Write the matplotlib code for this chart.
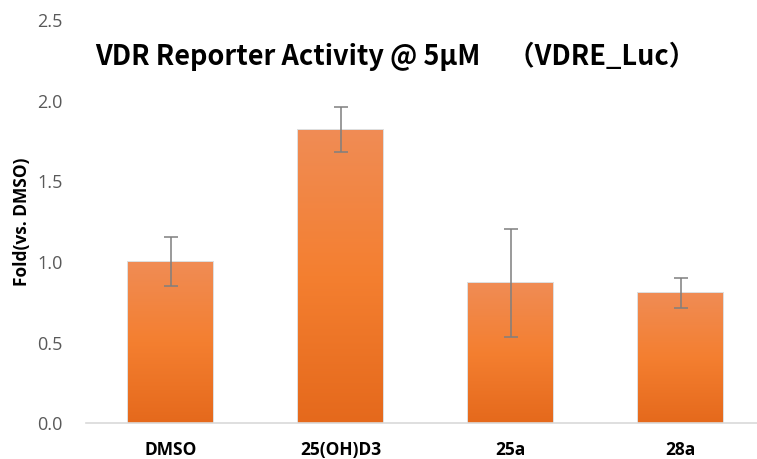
import numpy as np
import matplotlib.pyplot as plt
from matplotlib.colors import LinearSegmentedColormap
from matplotlib.patches import Rectangle

# data
categories = ["DMSO", "25(OH)D3", "25a", "28a"]
fold = [1.00, 1.82, 0.87, 0.81]
err_up = [0.155, 0.143, 0.335, 0.093]
err_down = [0.15, 0.137, 0.336, 0.093]
yticks = [0.0, 0.5, 1.0, 1.5, 2.0, 2.5]

fig = plt.figure(figsize=(7.57, 4.59), dpi=100)
ax = fig.add_axes([0.1136, 0.0784, 0.898, 0.877])

x = np.arange(len(categories))
width = 0.5

# orange gradient, lighter at the top
cmap = LinearSegmentedColormap.from_list(
    "org", ["#e5691c", "#f47f30", "#f08c55"])
grad = np.linspace(0, 1, 256).reshape(-1, 1)

bars = ax.bar(x, fold, width, color="none", edgecolor="none", zorder=2)
for b in bars:
    x0, y0 = b.get_x(), b.get_y()
    w, h = b.get_width(), b.get_height()
    # soft shadow
    ax.add_patch(Rectangle((x0 - 0.006, y0), w + 0.012, h + 0.004,
                           facecolor="#c8c8c8", edgecolor="none",
                           alpha=0.6, zorder=1.5))
    im = ax.imshow(grad, extent=[x0, x0 + w, y0, y0 + h], origin="lower",
                   cmap=cmap, aspect="auto", zorder=2)
    im.set_clip_path(b)

ax.errorbar(x, fold, yerr=[err_down, err_up], fmt="none",
            ecolor="#7f7f7f", elinewidth=1.1, capsize=5, capthick=1.1,
            zorder=3)

ax.set_xlim(-0.5, len(categories) - 0.5)
ax.set_ylim(0, 2.5)
ax.set_yticks(yticks)
ax.set_yticklabels([f"{v:.1f}" for v in yticks], color="#595959",
                   fontsize=13, family="Open Sans")
ax.set_xticks(x)
ax.set_xticklabels(categories, fontsize=12.5, fontweight="bold",
                   family="Open Sans")
ax.tick_params(length=0, pad=13)
ax.tick_params(axis="y", pad=17)

for s in ["top", "right", "left"]:
    ax.spines[s].set_visible(False)
ax.spines["bottom"].set_color("#d9d9d9")
ax.spines["bottom"].set_linewidth(1.2)

ax.set_ylabel("Fold(vs. DMSO)", fontsize=12.5, fontweight="bold",
              family="Open Sans", labelpad=4)

fig.text(0.522, 0.877, "VDR Reporter Activity @ 5\u03bcM\u3000（VDRE_Luc）",
         ha="center", va="center", fontsize=19.5, fontweight="bold",
         family=["Noto Sans CJK JP", "DejaVu Sans"])

fig.savefig("out.png", dpi=100)
